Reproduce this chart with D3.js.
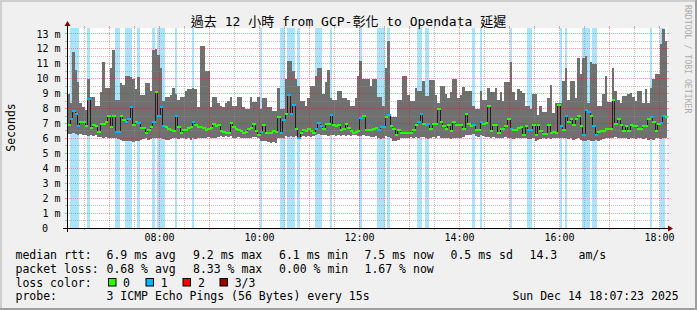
<!DOCTYPE html>
<html><head><meta charset="utf-8">
<script src="https://cdn.jsdelivr.net/npm/d3@7"></script>
<style>
body{margin:0;background:#f0f0f0}
svg{display:block}
text{font-family:"DejaVu Sans Mono","Noto Sans CJK TC",monospace;fill:#000}
</style></head>
<body><svg id="c" width="697" height="310"></svg>
<script>
// ---- data ----
const START = new Date(2025, 11, 14, 6, 9, 0);
const END = new Date(2025, 11, 14, 18, 9, 0);
const STEP_MIN = 3;

const maxRtt = [
 9.0, 8.4, 11.8, 10.6, 9.8, 8.4, 8.1, 7.9, 10.0, 8.8, 8.8, 8.2, 8.2, 9.1, 11.1, 9.4, 9.4, 10.7, 11.9, 8.6,
 8.6, 9.7, 9.6, 10.2, 10.2, 10.1, 10.0, 9.3, 10.1, 8.9, 8.9, 9.7, 9.7, 9.2, 11.9, 12.0, 11.6, 10.7, 8.5, 8.8,
 8.8, 8.9, 9.4, 9.0, 8.6, 8.8, 8.8, 9.2, 9.3, 9.3, 9.4, 9.3, 8.1, 12.2, 12.2, 10.5, 10.5, 8.1, 8.8, 8.8,
 8.4, 8.2, 8.1, 8.4, 8.5, 8.8, 8.2, 8.2, 8.8, 8.8, 8.1, 7.95, 7.95, 8.8, 8.45, 8.45, 8.8, 8.0, 8.7, 8.7,
 8.1, 8.1, 7.85, 7.85, 9.4, 8.0, 8.0, 10.0, 11.2, 11.2, 10.5, 10.0, 9.5, 8.5, 8.5, 8.2, 8.7, 9.5, 9.5, 10.2,
 10.7, 10.7, 9.0, 9.8, 10.6, 8.7, 8.6, 8.6, 9.2, 9.2, 8.7, 8.7, 8.6, 8.2, 8.2, 8.7, 10.2, 11.2, 10.0, 10.0,
 10.0, 9.5, 10.0, 10.0, 8.8, 8.8, 8.2, 10.7, 12.5, 7.45, 7.45, 7.45, 8.6, 8.6, 10.2, 10.2, 8.9, 8.5, 8.5, 9.4,
 9.2, 9.2, 9.85, 8.85, 8.85, 9.9, 9.9, 8.9, 8.4, 9.5, 9.5, 9.0, 8.7, 9.1, 10.0, 10.0, 8.7, 8.9, 9.45, 9.2,
 9.2, 9.2, 8.2, 8.0, 8.0, 9.2, 8.6, 8.6, 9.4, 9.1, 9.1, 9.4, 8.6, 9.1, 8.5, 9.8, 9.8, 11.1, 9.1, 8.6,
 9.3, 9.2, 9.05, 8.2, 8.2, 8.0, 9.0, 9.0, 7.6, 8.2, 7.8, 7.8, 8.7, 9.6, 7.7, 8.4, 8.4, 8.4, 9.85, 10.7,
 8.6, 9.85, 9.85, 8.7, 11.4, 10.3, 11.4, 11.5, 8.4, 11.1, 11.0, 11.0, 8.2, 8.2, 9.0, 10.2, 8.45, 8.45, 10.7, 9.2,
 8.6, 8.4, 8.85, 8.85, 9.0, 9.05, 8.8, 8.5, 9.2, 9.2, 8.35, 9.3, 8.4, 9.4, 9.95, 10.3, 10.3, 12.3, 13.3, 12.5
];
const minRtt = [
 6.3, 6.3, 6.35, 6.3, 6.25, 6.3, 6.2, 6.2, 6.15, 6.2, 6.15, 6.2, 6.1, 6.1, 6.05, 6.1, 6.05, 6.0, 6.05, 6.0,
 5.95, 5.9, 5.85, 5.8, 5.85, 5.8, 5.75, 5.8, 5.85, 5.9, 5.95, 6.0, 5.9, 5.95, 6.0, 6.05, 6.0, 6.0, 5.95, 5.9,
 5.9, 5.95, 6.0, 6.0, 5.95, 6.05, 6.0, 5.95, 6.0, 5.9, 6.0, 5.95, 6.0, 6.05, 6.0, 6.05, 6.1, 6.05, 6.0, 6.05,
 6.1, 6.15, 6.1, 6.15, 6.1, 6.15, 6.05, 6.05, 6.1, 6.0, 6.05, 6.0, 6.05, 6.05, 6.1, 6.1, 6.05, 5.85, 5.8, 5.85,
 5.75, 5.7, 5.75, 5.7, 6.0, 6.05, 6.0, 6.15, 6.1, 6.15, 6.1, 6.15, 6.0, 6.1, 6.15, 6.1, 6.15, 6.1, 6.15, 6.25,
 6.3, 6.25, 6.2, 6.2, 6.15, 6.25, 6.2, 6.15, 6.2, 6.15, 6.2, 6.15, 6.2, 6.15, 6.2, 6.2, 6.15, 6.15, 6.2, 6.15,
 6.15, 6.1, 6.1, 6.15, 6.0, 5.95, 6.05, 6.15, 6.1, 6.0, 5.85, 5.85, 5.9, 6.0, 6.05, 6.0, 6.05, 6.1, 6.05, 6.1,
 6.05, 6.1, 6.1, 6.0, 5.95, 6.05, 6.1, 6.05, 6.15, 6.05, 6.0, 6.05, 6.0, 5.95, 6.0, 6.05, 6.0, 6.05, 6.1, 6.2,
 6.25, 6.2, 6.3, 6.15, 6.1, 6.2, 6.15, 6.1, 6.1, 6.05, 6.1, 6.05, 6.0, 6.0, 6.05, 6.1, 6.05, 6.0, 5.95, 6.0,
 6.05, 6.0, 6.0, 6.05, 5.95, 5.95, 6.0, 5.85, 5.9, 5.95, 6.0, 5.95, 6.0, 5.95, 6.0, 6.05, 6.0, 6.05, 6.0, 6.05,
 5.95, 6.0, 5.9, 5.95, 6.0, 5.9, 5.85, 5.85, 5.9, 5.85, 5.85, 5.9, 5.85, 5.9, 5.95, 6.0, 6.0, 6.05, 6.0, 6.1,
 6.05, 6.0, 6.0, 6.05, 5.95, 6.0, 6.0, 5.95, 6.0, 6.0, 5.95, 6.0, 5.9, 5.95, 5.9, 6.0, 6.05, 5.95, 6.05, 6.0
];
const medianRtt = [
 7.0, 7.4, 7.9, 7.7, 6.9, 7.2, 7.2, 6.9, 8.7, 6.8, 6.95, 6.9, 6.5, 7.05, 7.05, 7.2, 7.55, 6.85, 7.55, 6.5,
 6.5, 7.55, 7.3, 7.2, 7.4, 8.2, 7.0, 7.2, 7.1, 6.75, 6.75, 6.4, 6.65, 6.85, 7.2, 9.2, 7.6, 8.2, 6.9, 6.85,
 6.7, 6.6, 6.55, 7.6, 6.85, 6.45, 6.6, 6.6, 6.8, 6.85, 7.2, 6.95, 6.85, 6.85, 6.75, 6.6, 6.7, 6.75, 7.05, 6.9,
 7.0, 6.55, 6.5, 6.45, 6.45, 7.1, 6.85, 6.7, 6.6, 6.55, 6.4, 6.5, 6.7, 6.75, 7.05, 6.55, 6.3, 6.5, 6.95, 6.4,
 6.4, 6.45, 6.55, 6.5, 7.5, 6.45, 7.3, 7.7, 9.0, 7.7, 8.3, 6.7, 6.1, 6.45, 6.6, 6.55, 6.7, 6.55, 6.45, 6.7,
 7.1, 6.9, 6.7, 7.05, 7.05, 7.65, 6.95, 6.9, 7.0, 6.6, 6.7, 7.05, 6.75, 6.55, 6.45, 6.5, 6.55, 7.45, 7.6, 6.6,
 6.6, 6.65, 6.7, 6.8, 6.65, 6.85, 6.85, 7.5, 7.65, 6.9, 6.7, 6.3, 6.6, 6.4, 6.4, 6.4, 6.4, 6.4, 6.6, 6.95,
 7.2, 7.7, 7.05, 7.0, 7.05, 6.7, 7.05, 7.05, 8.05, 7.2, 6.9, 6.7, 6.95, 6.55, 7.2, 6.95, 6.95, 6.95, 6.7, 7.7,
 7.05, 6.9, 6.95, 6.65, 6.65, 7.2, 7.05, 7.1, 8.25, 6.55, 7.0, 6.95, 6.45, 6.7, 6.7, 6.9, 7.4, 6.7, 6.65, 6.65,
 6.8, 6.85, 6.3, 6.9, 6.6, 6.6, 6.95, 6.3, 6.95, 6.55, 6.35, 6.35, 6.95, 6.45, 6.5, 6.45, 8.3, 6.9, 6.65, 7.55,
 7.15, 7.4, 6.95, 7.4, 7.6, 6.9, 6.3, 7.95, 7.85, 7.55, 6.9, 6.3, 6.5, 6.55, 6.55, 6.7, 6.7, 6.7, 8.65, 7.05,
 7.35, 6.95, 6.55, 6.9, 6.55, 7.0, 6.9, 6.9, 6.7, 6.7, 6.9, 6.9, 7.35, 7.5, 7.15, 6.55, 7.05, 7.1, 7.55, 7.5
];
const lossCount = [
 0,1,1,1,1,0,0,0,1,0, 0,0,0,0,0,0,0,0,0,1,
 1,0,0,1,1,1,0,0,1,0, 0,0,0,0,1,0,1,1,1,0,
 0,0,0,1,0,0,0,0,0,0, 1,0,0,0,0,0,0,0,0,0,
 0,0,0,0,0,0,0,0,0,0, 0,0,0,0,0,0,0,1,0,0,
 0,0,0,0,0,1,1,0,1,1, 1,0,1,0,0,0,0,0,0,1,
 1,1,0,0,0,1,0,0,0,0, 0,0,0,0,0,0,0,1,0,0,
 0,0,0,0,1,1,1,0,1,0, 0,0,0,0,0,0,0,0,0,0,
 1,1,0,1,1,0,0,0,0,0, 0,0,0,0,0,0,0,0,0,0,
 0,0,1,0,0,1,0,0,0,0, 0,0,0,0,0,0,0,1,0,0,
 0,0,0,0,1,1,0,0,0,0, 0,0,0,0,0,0,0,1,0,1,
 0,0,0,0,0,0,1,1,1,0, 1,1,0,0,0,0,0,0,0,0,
 0,0,0,0,0,0,0,0,0,0, 0,0,0,1,0,0,0,1,1,0
];
const yTickValues = [0,1,2,3,4,5,6,7,8,9,10,11,12,13];
const yTickLabels = ["0","1 m","2 m","3 m","4 m","5 m","6 m","7 m","8 m","9 m","10 m","11 m","12 m","13 m"];
const xTickLabels = ["08:00","10:00","12:00","14:00","16:00","18:00"];
const lossColors = ["#26ff00","#00b8ff","#ff0000","#a00000"];
const lossLegendLabels = ["0","1","2","3/3"];
const titleText = "過去 12 小時 from GCP-彰化 to Opendata 延遲";
const legendRows = [
  [["median rtt:",16],["6.9 ms avg",107],["9.2 ms max",193.5],["6.1 ms min",279.5],["7.5 ms now",365],["0.5 ms sd",451],["14.3",530],["am/s",579]],
  [["packet loss:",16],["0.68 % avg",107],["8.33 % max",193.5],["0.00 % min",279.5],["1.67 % now",365]],
  [["loss color:",16]],
  [["probe:",16],["3 ICMP Echo Pings (56 Bytes) every 15s",107],["Sun Dec 14 18:07:23 2025",513]]
];

// ---- drawing ----
const svg = d3.select("#c");
const W = 697, H = 310;
const X0 = 67, X1 = 667, Y0 = 228, Y1 = 28;
const x = d3.scaleTime().domain([START, END]).range([X0, X1]);
const y = d3.scaleLinear().domain([0, 13.4]).range([Y0, Y1]);
const tAt = i => new Date(START.getTime() + i * STEP_MIN * 60000);
const px = t => Math.round(x(t));
const py = v => Math.round(y(v));

// background + bevel
svg.append("rect").attr("width", W).attr("height", H).attr("fill", "#f0f0f0");
svg.append("rect").attr("x",0).attr("y",0).attr("width",W).attr("height",2).attr("fill","#cfcfcf");
svg.append("rect").attr("x",0).attr("y",0).attr("width",2).attr("height",H).attr("fill","#cfcfcf");
svg.append("rect").attr("x",0).attr("y",H-2).attr("width",W).attr("height",2).attr("fill","#9e9e9e");
svg.append("rect").attr("x",W-2).attr("y",0).attr("width",2).attr("height",H).attr("fill","#9e9e9e");

// canvas
svg.append("rect").attr("x", X0).attr("y", Y1).attr("width", X1 - X0).attr("height", Y0 - Y1).attr("fill", "#fff");

const idx = d3.range(maxRtt.length);
const g = svg.append("g").attr("shape-rendering", "crispEdges");

// loss background
g.selectAll("rect.loss").data(idx.filter(i => lossCount[i] > 0)).join("rect")
  .attr("class","loss")
  .attr("x", i => px(tAt(i))).attr("width", i => px(tAt(i+1)) - px(tAt(i)))
  .attr("y", Y1).attr("height", Y0 - Y1)
  .attr("fill", "#aae3fa");

// smoke
g.selectAll("rect.smoke").data(idx).join("rect")
  .attr("class","smoke")
  .attr("x", i => px(tAt(i))).attr("width", i => px(tAt(i+1)) - px(tAt(i)))
  .attr("y", i => py(maxRtt[i])).attr("height", i => py(minRtt[i]) - py(maxRtt[i]))
  .attr("fill", "#707070");

// grid
const gridG = svg.append("g").attr("shape-rendering","crispEdges");
const majorT = d3.timeHour.range(START, END);
const minorT = d3.timeMinute.every(30).range(START, END).filter(t => t.getMinutes() !== 0);
const vline = (t, col) => {
  const xx = Math.floor(x(t)) + 0.5;
  gridG.append("line").attr("x1", xx).attr("x2", xx).attr("y1", Y1 - 2).attr("y2", Y1).attr("stroke", col);
  gridG.append("line").attr("x1", xx).attr("x2", xx).attr("y1", Y0).attr("y2", Y0 + 2).attr("stroke", col);
  gridG.append("line").attr("x1", xx).attr("x2", xx).attr("y1", Y1).attr("y2", Y0)
    .attr("stroke", col).attr("stroke-dasharray", "1,1");
};
const hline = (v, col) => {
  const yy = Math.floor(y(v)) + 0.5;
  gridG.append("line").attr("x1", X0 - 2).attr("x2", X0).attr("y1", yy).attr("y2", yy).attr("stroke", col);
  gridG.append("line").attr("x1", X1).attr("x2", X1 + 2).attr("y1", yy).attr("y2", yy).attr("stroke", col);
  gridG.append("line").attr("x1", X0).attr("x2", X1).attr("y1", yy).attr("y2", yy)
    .attr("stroke", col).attr("stroke-dasharray", "1,1");
};
const GRIDC = "rgba(140,140,140,0.55)", MGRIDC = "rgba(255,0,0,0.38)";
minorT.forEach(t => vline(t, GRIDC));
d3.range(0.5, 13.4, 1).forEach(v => hline(v, GRIDC));
majorT.forEach(t => vline(t, MGRIDC));
yTickValues.filter(v => v > 0).forEach(v => hline(v, MGRIDC));

// median: dark step line, then loss-coloured segments on top
const pts = [];
idx.forEach(i => { pts.push([px(tAt(i)), py(medianRtt[i])]); pts.push([px(tAt(i+1)), py(medianRtt[i])]); });
svg.append("path").attr("d", d3.line().x(d => d[0] + 0.5).y(d => d[1] + 0.5)(pts))
  .attr("fill","none").attr("stroke","#202020").attr("stroke-width",1).attr("shape-rendering","crispEdges");
const medG = svg.append("g").attr("shape-rendering","crispEdges");
medG.selectAll("rect").data(idx).join("rect")
  .attr("x", i => px(tAt(i))).attr("width", i => px(tAt(i+1)) - px(tAt(i)) + 1)
  .attr("y", i => py(medianRtt[i]) - 0.5).attr("height", 2)
  .attr("fill", i => lossColors[Math.min(lossCount[i], 3)]);

// axes
const ax = svg.append("g").attr("shape-rendering","crispEdges");
ax.append("line").attr("x1", X0 - 4).attr("x2", X1 + 4).attr("y1", Y0 + 0.5).attr("y2", Y0 + 0.5).attr("stroke", "#000");
ax.append("line").attr("x1", X0 + 0.5).attr("x2", X0 + 0.5).attr("y1", Y0 + 4).attr("y2", Y1 - 4).attr("stroke", "#000");
svg.append("path").attr("d", `M${X1+1},${Y0-2.5}L${X1+1},${Y0+3.5}L${X1+6},${Y0+0.5}Z`).attr("fill","#7f0000");
svg.append("path").attr("d", `M${X0-2.5},${Y1-2}L${X0+3.5},${Y1-2}L${X0+0.5},${Y1-7}Z`).attr("fill","#7f0000");

// y tick labels
svg.selectAll("text.yl").data(yTickValues).join("text")
  .attr("class","yl")
  .attr("x", v => v === 0 ? 48 : 60.5)
  .attr("y", v => y(v) + 3.6)
  .attr("text-anchor","end").attr("font-size", 10)
  .text((v, i) => yTickLabels[i]);

// x tick labels
const labelT = d3.timeHour.range(START, END).filter(t => t.getHours() % 2 === 0);
svg.selectAll("text.xl").data(labelT).join("text")
  .attr("class","xl")
  .attr("x", t => Math.floor(x(t)) + 0.5).attr("y", 240.7)
  .attr("text-anchor","middle").attr("font-size", 10)
  .text((t, i) => xTickLabels[i]);

// title
svg.append("text").attr("x", 348.5).attr("y", 25.5).attr("text-anchor","middle")
  .attr("font-size", 13).text(titleText);

// y unit label
svg.append("text").attr("transform","translate(14.5,127.5) rotate(-90)")
  .attr("text-anchor","middle").attr("font-size", 11.5).text("Seconds");

// watermark
svg.append("text").attr("transform","translate(685,5) rotate(90)")
  .attr("text-anchor","start").attr("font-size", 8.2).style("fill","#acacac")
  .text("RRDTOOL / TOBI OETIKER");

// legend
const baselines = [259.4, 273.1, 286.7, 300.4];
legendRows.forEach((row, r) => {
  row.forEach(([txt, xx]) => {
    svg.append("text").attr("x", xx - 0.5).attr("y", baselines[r]).attr("font-size", 11.5)
      .attr("xml:space","preserve").text(txt);
  });
});
const boxX = [108, 145.5, 182.5, 219.5];
const boxLabelX = [123, 160.7, 198, 234.7];
lossColors.forEach((c, i) => {
  svg.append("rect").attr("x", boxX[i] + 0.5).attr("y", 278.5).attr("width", 7.5).attr("height", 7.5)
    .attr("fill", c).attr("stroke", "#000").attr("stroke-width", 1);
  svg.append("text").attr("x", boxLabelX[i]).attr("y", baselines[2]).attr("font-size", 11.5).text(lossLegendLabels[i]);
});
</script>
</body></html>
